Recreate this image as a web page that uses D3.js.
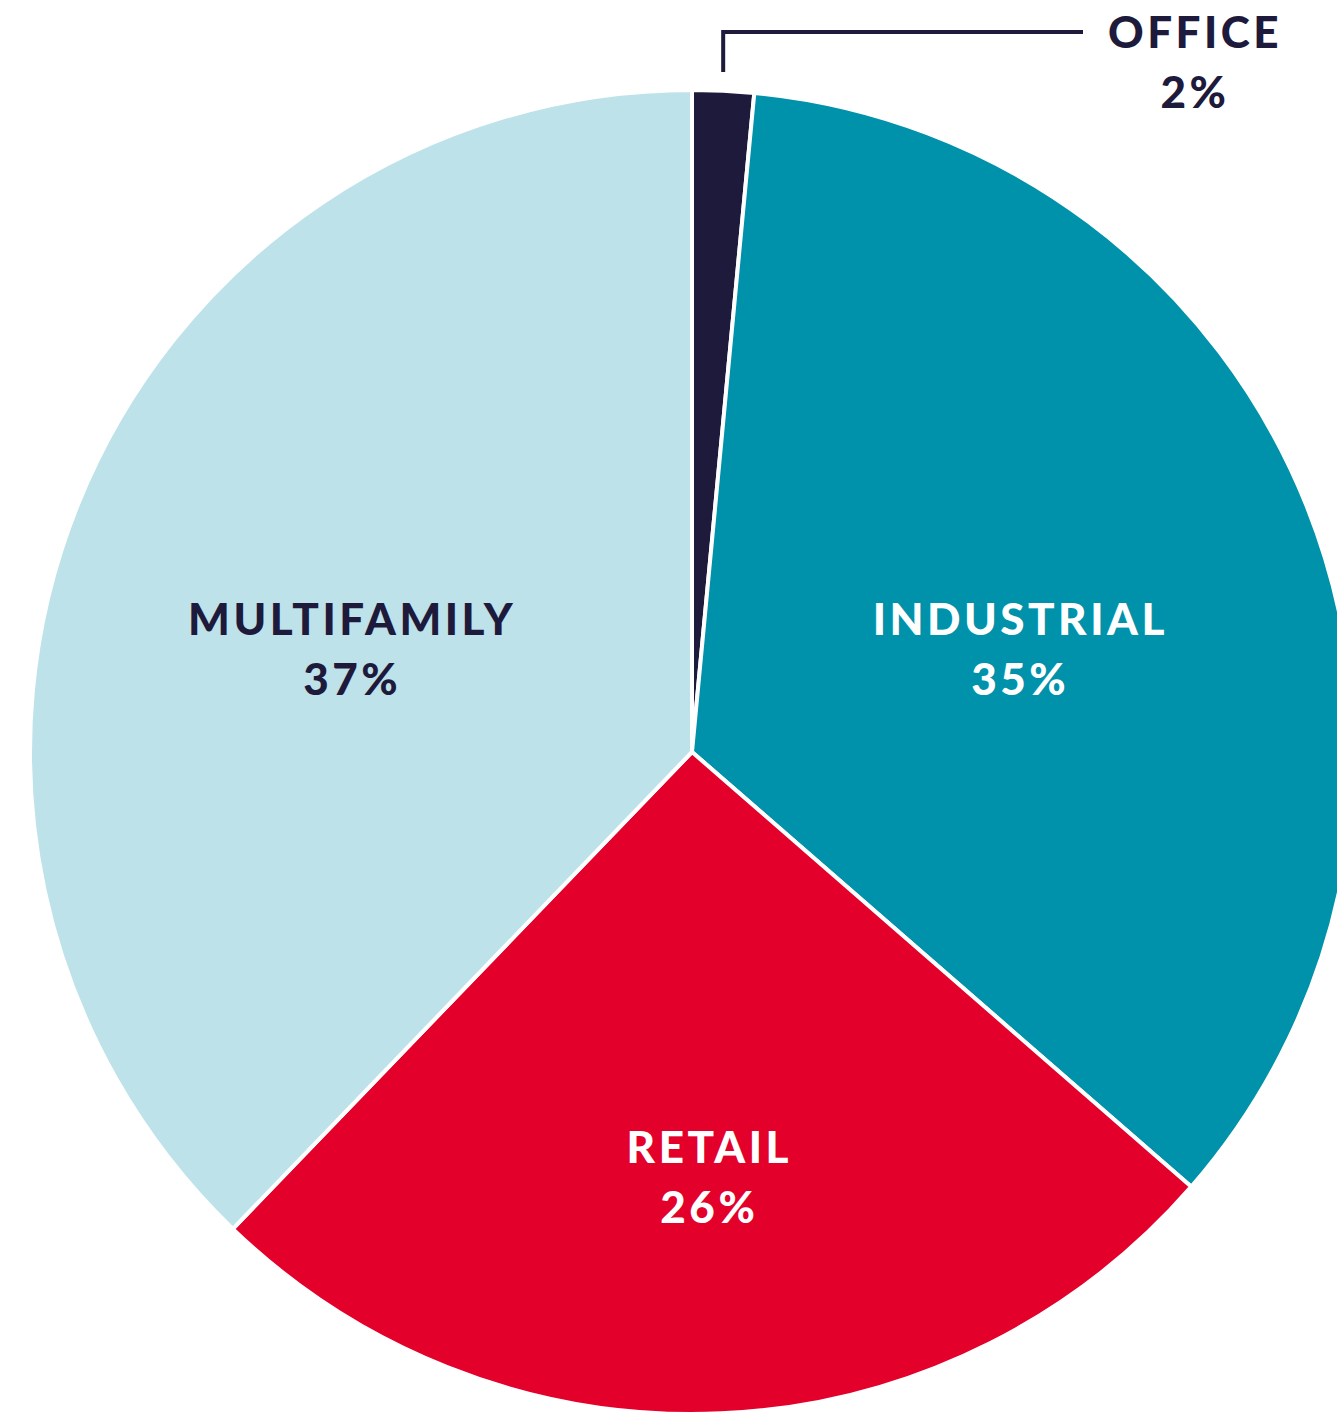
<!DOCTYPE html>
<html>
<head>
<meta charset="utf-8">
<script src="https://cdn.jsdelivr.net/npm/d3@7"></script>
<style>
  html, body { margin: 0; padding: 0; background: #ffffff; }
  svg { display: block; }
  text { font-family: "Lato", "Open Sans", sans-serif; font-weight: 900; }
</style>
</head>
<body>
<svg id="chart" width="1337" height="1418"></svg>
<script>
// ---- data ----
const categories = ["OFFICE", "INDUSTRIAL", "RETAIL", "MULTIFAMILY"];
const shares = [1.5, 34.9, 25.8, 37.8];           // slice sizes as drawn
const percentLabels = ["2%", "35%", "26%", "37%"]; // printed labels

// ---- style ----
const colors = ["#1d1a3b", "#0092aa", "#e3002b", "#bee2ea"];
const textColors = ["#1d1a3b", "#ffffff", "#ffffff", "#1d1a3b"];
const labelNudge = [[0, 0], [-18, 21], [-1, 41], [2, 22]];

const W = 1337, H = 1418;
const cx = 692, cy = 752, R = 662;
const svg = d3.select("#chart");
const g = svg.append("g").attr("transform", `translate(${cx},${cy})`);

const data = categories.map((c, i) => ({ cat: c, value: shares[i], label: percentLabels[i], i }));
const pie = d3.pie().sort(null).value(d => d.value).startAngle(0).endAngle(2 * Math.PI);
const arcs = pie(data);
const arc = d3.arc().innerRadius(0).outerRadius(R);
const labelArc = d3.arc().innerRadius(R * 0.56).outerRadius(R * 0.56);

g.selectAll("path.slice")
  .data(arcs)
  .join("path")
  .attr("class", "slice")
  .attr("d", arc)
  .attr("fill", d => colors[d.data.i])
  .attr("stroke", "#ffffff")
  .attr("stroke-width", 4)
  .attr("stroke-linejoin", "miter");

const fs = 44, ls = "3.5px", gap = 60;
// inner labels (all but office)
arcs.filter(d => d.data.i !== 0).forEach(d => {
  const [x, y] = labelArc.centroid(d);
  const [nx, ny] = labelNudge[d.data.i];
  const t = g.append("text")
    .attr("text-anchor", "middle")
    .attr("fill", textColors[d.data.i])
    .style("font-size", fs + "px")
    .style("letter-spacing", ls);
  t.append("tspan").attr("x", x + nx + 2).attr("y", y + ny).text(d.data.cat);
  t.append("tspan").attr("x", x + nx + 2).attr("y", y + ny + gap).text(d.data.label);
});

// office callout
const office = arcs[0];
const midA = (office.startAngle + office.endAngle) / 2;
const lx = R * Math.sin(midA);
const lineTopY = -R - 58, lineBottomY = -R - 18;
const lineEndX = 1083 - cx;
g.append("path")
  .attr("d", d3.line()([[lx, lineBottomY], [lx, lineTopY], [lineEndX, lineTopY]]))
  .attr("fill", "none")
  .attr("stroke", colors[0])
  .attr("stroke-width", 4)
  .attr("stroke-linejoin", "miter");

const ot = g.append("text")
  .attr("text-anchor", "middle")
  .attr("fill", textColors[0])
  .style("font-size", fs + "px")
  .style("letter-spacing", ls);
const otx = 1195 - cx;
ot.append("tspan").attr("x", otx).attr("y", lineTopY + 16).text(office.data.cat);
ot.append("tspan").attr("x", otx).attr("y", lineTopY + 16 + gap).text(office.data.label);
</script>
</body>
</html>
